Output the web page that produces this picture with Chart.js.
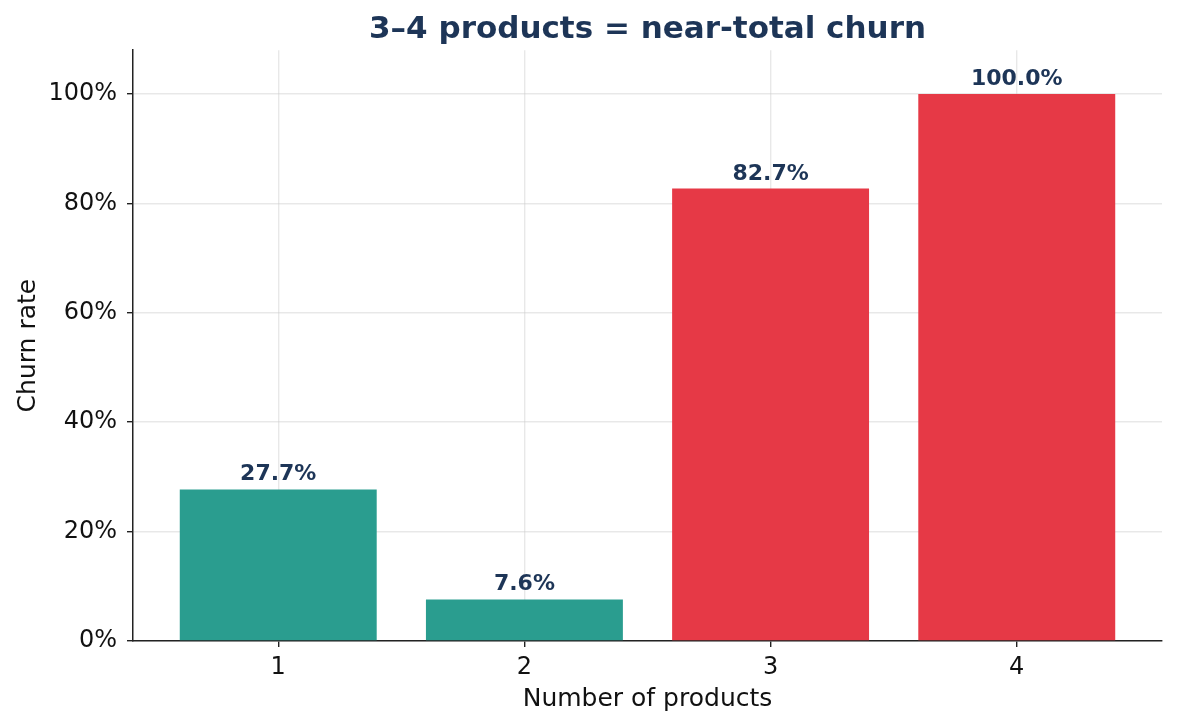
<!DOCTYPE html>
<html>
<head>
<meta charset="utf-8">
<script src="https://cdn.jsdelivr.net/npm/chart.js@4/dist/chart.umd.min.js"></script>
<style>
  html, body { margin: 0; padding: 0; background: #fff; }
  #wrap { width: 1177px; height: 727px; }
</style>
</head>
<body>
<div id="wrap"><canvas id="chart" width="1177" height="727"></canvas></div>
<script>
// Churn rate by number of products held.
const products = [1, 2, 3, 4];
const churnRates = [27.7, 7.6, 82.7, 100.0];
const highlighted = [3, 4];
const yTicks = [0, 20, 40, 60, 80, 100];

const TEAL = "#2a9d8f";
const RED = "#e63946";
const NAVY = "#1d3557";
const FONT = "'DejaVu Sans', sans-serif";
const GRID = "rgba(204, 204, 204, 0.45)";

// Value labels above each bar, read from the bar elements.
const barLabels = {
  id: "barLabels",
  afterDraw(chart) {
    const ctx = chart.ctx;
    const meta = chart.getDatasetMeta(0);
    ctx.save();
    ctx.font = `bold 22px ${FONT}`;
    ctx.fillStyle = NAVY;
    ctx.textAlign = "center";
    ctx.textBaseline = "alphabetic";
    meta.data.forEach((bar, i) => {
      ctx.fillText(churnRates[i].toFixed(1) + "%", bar.x, bar.y - 9);
    });
    ctx.restore();
  },
};

new Chart(document.getElementById("chart"), {
  type: "bar",
  data: {
    datasets: [{
      data: products.map((p, i) => ({ x: p, y: churnRates[i] })),
      backgroundColor: products.map((p) => (highlighted.includes(p) ? RED : TEAL)),
      categoryPercentage: 1,
      barPercentage: 0.8,
    }],
  },
  options: {
    responsive: false,
    animation: false,
    layout: { padding: { left: 0, right: 15, top: 0, bottom: 0 } },
    plugins: {
      legend: { display: false },
      tooltip: { enabled: false },
      title: {
        display: true,
        fullSize: false,  // centre over the plot area, not the canvas
        text: "3–4 products = near-total churn",
        color: NAVY,
        font: { family: FONT, size: 31, weight: "bold", lineHeight: 1.2 },
        padding: { top: 11, bottom: 2 },
      },
    },
    scales: {
      x: {
        type: "linear",
        min: 0.41,
        max: 4.59,
        offset: false,
        z: 1,
        afterBuildTicks: (s) => { s.ticks = products.map((v) => ({ value: v })); },
        afterFit: (s) => { s.height = 86; },
        grid: { offset: false, color: GRID, lineWidth: 1.4, tickColor: "#222", tickLength: 6, tickWidth: 1.4 },
        border: { color: "#222", width: 1.5 },
        ticks: { color: "#111", font: { family: FONT, size: 24 }, padding: 6, callback: (v) => String(v) },
        title: {
          display: true,
          text: "Number of products",
          color: "#111",
          font: { family: FONT, size: 25 },
          padding: 13,
        },
      },
      y: {
        min: 0,
        max: 108,
        z: 1,
        afterBuildTicks: (s) => { s.ticks = yTicks.map((v) => ({ value: v })); },
        afterFit: (s) => { s.width = 133; },
        grid: { color: GRID, lineWidth: 1.4, tickColor: "#222", tickLength: 6, tickWidth: 1.4 },
        border: { color: "#222", width: 1.5 },
        ticks: { color: "#111", font: { family: FONT, size: 24 }, padding: 10, callback: (v) => v + "%" },
        title: {
          display: true,
          text: "Churn rate",
          color: "#111",
          font: { family: FONT, size: 25 },
          padding: 13,
        },
      },
    },
  },
  plugins: [barLabels],
});
</script>
</body>
</html>
